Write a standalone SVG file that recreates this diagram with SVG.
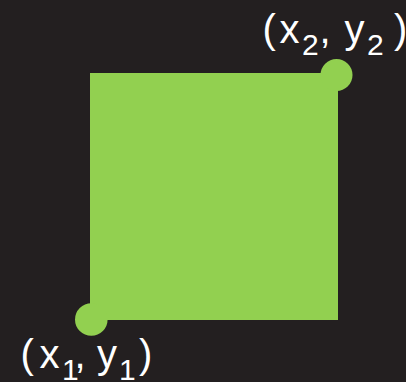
<svg xmlns="http://www.w3.org/2000/svg" width="406" height="382" viewBox="0 0 406 382">
  <style>
    .bg { fill: #231f20; }
    .shape { fill: #92d050; }
    .lbl { fill: #ffffff; font-family: "Liberation Sans", Arial, sans-serif; font-size: 40px; }
    .sub { font-size: 30px; }
  </style>
  <rect class="bg" x="0" y="0" width="406" height="382"/>
  <g id="square">
    <rect class="shape" x="90" y="73" width="248" height="247"/>
  </g>
  <g id="point2">
    <circle class="shape" cx="336.5" cy="75" r="16"/>
    <text class="lbl"><tspan x="262.5" y="43">(</tspan><tspan x="279.6" y="43">x</tspan><tspan class="sub" x="302" y="55">2</tspan><tspan x="319.5" y="43">,</tspan><tspan x="344.6" y="43">y</tspan><tspan class="sub" x="367" y="55">2</tspan><tspan x="394" y="43">)</tspan></text>
  </g>
  <g id="point1">
    <circle class="shape" cx="91.3" cy="319.5" r="16.3"/>
    <text class="lbl"><tspan x="20.5" y="368">(</tspan><tspan x="39.6" y="368">x</tspan><tspan class="sub" x="62" y="380">1</tspan><tspan x="74.5" y="368">,</tspan><tspan x="97" y="368">y</tspan><tspan class="sub" x="119" y="380">1</tspan><tspan x="139" y="368">)</tspan></text>
  </g>
</svg>
